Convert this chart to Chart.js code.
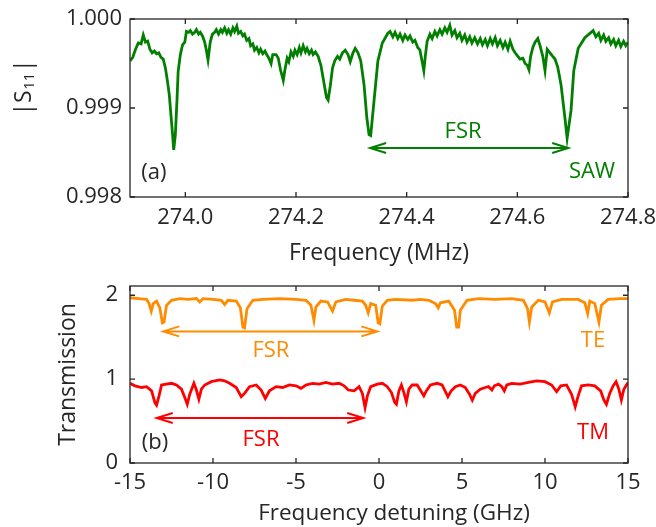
<!DOCTYPE html>
<html><head><meta charset="utf-8">
<script src="https://cdn.jsdelivr.net/npm/chart.js@4.4.1/dist/chart.umd.min.js"></script>
<style>
html,body{margin:0;padding:0;background:#fff;width:656px;height:527px;overflow:hidden;position:relative}
canvas{position:absolute;left:0}
#ca{top:0}
#cb{top:270px}
</style></head><body>
<canvas id="ca" width="656" height="270"></canvas>
<canvas id="cb" width="656" height="257"></canvas>
<script>
// ---------- Panel (a): SAW reflection ----------
const sawFreq = [
273.900,273.905,273.910,273.915,273.920,273.924,273.928,273.932,273.936,273.940,
273.944,273.948,273.952,273.956,273.960,273.964,273.967,273.971,273.974,273.977,
273.979,273.982,273.985,273.987,273.991,273.995,273.999,274.002,274.006,274.009,
274.013,274.017,274.020,274.024,274.027,274.031,274.035,274.038,274.041,274.045,
274.049,274.053,274.056,274.060,274.064,274.067,274.071,274.075,274.078,274.082,
274.086,274.089,274.093,274.096,274.100,274.104,274.107,274.111,274.115,274.118,
274.122,274.125,274.129,274.133,274.136,274.140,274.144,274.147,274.151,274.155,
274.158,274.164,274.168,274.172,274.177,274.180,274.184,274.187,274.191,274.195,
274.198,274.202,274.206,274.209,274.213,274.217,274.220,274.224,274.228,274.231,
274.235,274.240,274.245,274.250,274.255,274.258,274.262,274.266,274.270,274.275,
274.279,274.284,274.289,274.294,274.298,274.303,274.307,274.312,274.317,274.323,
274.328,274.332,274.335,274.341,274.348,274.356,274.366,274.370,274.375,274.379,
274.384,274.388,274.393,274.397,274.402,274.406,274.411,274.415,274.420,274.424,
274.428,274.431,274.434,274.437,274.442,274.446,274.451,274.455,274.460,274.464,
274.469,274.473,274.478,274.482,274.487,274.491,274.496,274.500,274.505,274.509,
274.514,274.518,274.523,274.528,274.533,274.537,274.542,274.546,274.551,274.555,
274.560,274.564,274.569,274.574,274.578,274.583,274.587,274.592,274.596,274.601,
274.605,274.610,274.614,274.618,274.621,274.624,274.628,274.632,274.637,274.641,
274.646,274.650,274.654,274.659,274.664,274.668,274.673,274.679,274.686,274.690,
274.697,274.702,274.710,274.722,274.737,274.742,274.747,274.751,274.756,274.760,
274.765,274.769,274.774,274.778,274.783,274.787,274.792,274.796,274.800
];
const sawS11 = [
0.99953,0.99957,0.99966,0.99973,0.99972,0.99982,0.99974,0.99975,0.99966,0.99962,
0.99964,0.99961,0.99962,0.99957,0.99955,0.99945,0.99933,0.99915,0.99892,0.99870,
0.99853,0.99870,0.99910,0.99941,0.99960,0.99971,0.99974,0.99986,0.99985,0.99987,
0.99983,0.99985,0.99988,0.99983,0.99985,0.99981,0.99974,0.99965,0.99954,0.99974,
0.99983,0.99985,0.99988,0.99983,0.99988,0.99985,0.99990,0.99984,0.99988,0.99983,
0.99990,0.99986,0.99992,0.99984,0.99986,0.99981,0.99983,0.99976,0.99978,0.99970,
0.99972,0.99965,0.99968,0.99962,0.99966,0.99961,0.99964,0.99960,0.99956,0.99950,
0.99960,0.99960,0.99956,0.99943,0.99931,0.99943,0.99956,0.99952,0.99963,0.99958,
0.99965,0.99960,0.99968,0.99962,0.99970,0.99963,0.99967,0.99961,0.99965,0.99960,
0.99963,0.99958,0.99948,0.99930,0.99912,0.99909,0.99925,0.99945,0.99953,0.99958,
0.99955,0.99962,0.99965,0.99960,0.99952,0.99962,0.99967,0.99962,0.99953,0.99926,
0.99889,0.99870,0.99869,0.99908,0.99953,0.99973,0.99984,0.99986,0.99980,0.99985,
0.99978,0.99983,0.99976,0.99982,0.99977,0.99981,0.99974,0.99976,0.99968,0.99965,
0.99952,0.99942,0.99960,0.99975,0.99983,0.99978,0.99986,0.99981,0.99988,0.99983,
0.99990,0.99985,0.99993,0.99982,0.99987,0.99979,0.99984,0.99976,0.99982,0.99974,
0.99980,0.99973,0.99979,0.99972,0.99978,0.99971,0.99977,0.99970,0.99978,0.99972,
0.99979,0.99970,0.99976,0.99968,0.99974,0.99966,0.99975,0.99966,0.99962,0.99958,
0.99955,0.99956,0.99950,0.99948,0.99943,0.99958,0.99968,0.99974,0.99978,0.99970,
0.99958,0.99942,0.99966,0.99962,0.99958,0.99955,0.99946,0.99926,0.99889,0.99866,
0.99897,0.99942,0.99967,0.99979,0.99987,0.99980,0.99984,0.99976,0.99982,0.99975,
0.99979,0.99972,0.99977,0.99970,0.99976,0.99969,0.99975,0.99970,0.99974
];
const sawXTicks = [274.0, 274.2, 274.4, 274.6, 274.8];
const sawYTicks = [0.998, 0.999, 1.000];

// ---------- Panel (b): optical transmission ----------
const teDetuning = [
-15.0,-14.5,-14.0,-13.85,-13.72,-13.6,-13.4,-13.2,-13.05,-12.95,-12.8,-12.5,-12.0,-11.5,-11.0,-10.8,-10.6,-10.0,-9.5,-9.3,
-9.1,-8.6,-8.35,-8.2,-8.1,-7.95,-7.6,-7.0,-6.0,-5.0,-4.4,-4.1,-3.92,-3.8,-3.5,-3.1,-2.8,-2.6,-2.0,-1.5,
-1.0,-0.8,-0.65,-0.5,-0.2,-0.05,0.05,0.2,0.5,1.0,2.0,2.5,3.0,3.4,3.57,3.7,4.2,4.55,4.68,4.8,
4.9,5.3,6.0,7.0,8.0,8.7,8.95,9.06,9.2,9.6,10.0,10.26,10.45,11.0,12.0,12.4,12.57,12.7,13.0,13.25,
13.4,13.8,14.5,15.0
];
const teTransmission = [
1.97,1.96,1.95,1.90,1.81,1.90,1.93,1.85,1.67,1.68,1.88,1.94,1.96,1.95,1.96,1.92,1.96,1.95,1.94,1.89,
1.94,1.93,1.85,1.62,1.61,1.84,1.94,1.95,1.96,1.95,1.94,1.88,1.70,1.86,1.93,1.92,1.81,1.92,1.95,1.94,
1.93,1.88,1.79,1.90,1.88,1.67,1.66,1.87,1.94,1.95,1.94,1.95,1.94,1.90,1.85,1.91,1.93,1.82,1.62,1.62,
1.82,1.94,1.96,1.95,1.96,1.94,1.84,1.68,1.86,1.94,1.92,1.79,1.92,1.95,1.95,1.91,1.78,1.93,1.90,1.68,
1.88,1.95,1.96,1.96
];
const tmDetuning = [
-15.0,-14.7,-14.3,-14.0,-13.7,-13.5,-13.4,-13.25,-13.1,-12.8,-12.5,-12.2,-11.9,-11.7,-11.55,-11.4,-11.15,-11.0,-10.85,-10.7,
-10.5,-10.1,-9.6,-9.3,-9.0,-8.6,-8.3,-8.1,-7.8,-7.4,-7.1,-6.85,-6.6,-6.2,-5.8,-5.4,-5.0,-4.7,-4.4,-4.0,
-3.6,-3.2,-2.8,-2.4,-2.1,-1.85,-1.5,-1.2,-1.0,-0.84,-0.7,-0.5,-0.1,0.2,0.5,0.75,0.95,1.05,1.2,1.35,
1.5,1.65,1.8,2.0,2.3,2.55,2.7,2.85,3.1,3.5,3.8,4.0,4.15,4.35,4.6,4.9,5.2,5.45,5.62,5.8,
6.1,6.4,6.6,6.8,6.95,7.2,7.4,7.55,7.7,8.0,8.5,9.0,9.5,10.0,10.4,10.7,10.95,11.3,11.6,11.82,
12.0,12.2,12.6,13.0,13.35,13.55,13.7,13.9,14.1,14.28,14.45,14.6,14.75,15.0
];
const tmTransmission = [
0.95,0.92,0.90,0.91,0.86,0.72,0.69,0.80,0.93,0.94,0.95,0.93,0.88,0.78,0.70,0.82,0.95,0.87,0.76,0.88,
0.93,0.97,0.99,0.98,0.95,0.90,0.79,0.83,0.91,0.93,0.87,0.77,0.86,0.91,0.90,0.93,0.92,0.89,0.93,0.95,
0.94,0.96,0.94,0.95,0.92,0.87,0.86,0.91,0.83,0.66,0.80,0.91,0.94,0.95,0.91,0.84,0.72,0.70,0.86,0.93,
0.84,0.73,0.88,0.93,0.93,0.85,0.80,0.86,0.93,0.95,0.93,0.85,0.79,0.86,0.91,0.93,0.90,0.82,0.75,0.83,
0.88,0.90,0.91,0.87,0.92,0.94,0.91,0.86,0.93,0.95,0.94,0.96,0.98,0.97,0.93,0.85,0.92,0.93,0.82,0.67,
0.80,0.92,0.93,0.92,0.86,0.75,0.70,0.83,0.92,0.97,0.88,0.75,0.88,0.96
];
const detXTicks = [-15, -10, -5, 0, 5, 10, 15];
const detYTicks = [0, 1, 2];

// ---------- styling ----------
const FONT = '"Open Sans", "DejaVu Sans", sans-serif';
const INK = '#262626';
const GREEN = '#007f00', ORANGE = '#ff8c00', RED = '#ff0000';
Chart.defaults.font.family = FONT;
Chart.defaults.color = INK;

const pairs = (xs, ys) => xs.map((v, i) => ({x: v, y: ys[i]}));

const framePlugin = {
  id: 'frame',
  afterDatasetsDraw(chart) {
    const {ctx, chartArea: a, scales: {x, y}} = chart;
    const L = 5;
    ctx.save();
    ctx.strokeStyle = INK; ctx.lineWidth = 1.3;
    ctx.strokeRect(a.left, a.top, a.right - a.left, a.bottom - a.top);
    ctx.beginPath();
    x.ticks.forEach(t => {
      const p = x.getPixelForValue(t.value);
      ctx.moveTo(p, a.bottom); ctx.lineTo(p, a.bottom - L);
      ctx.moveTo(p, a.top); ctx.lineTo(p, a.top + L);
    });
    y.ticks.forEach(t => {
      const p = y.getPixelForValue(t.value);
      ctx.moveTo(a.left, p); ctx.lineTo(a.left + L, p);
      ctx.moveTo(a.right, p); ctx.lineTo(a.right - L, p);
    });
    ctx.stroke();
    ctx.restore();
  }
};

function marks(labels, arrows, texts) {
  return {
    id: 'marks',
    afterDatasetsDraw(chart) {
      const {ctx, scales: {x, y}} = chart;
      ctx.save();
      arrows.forEach(a => {
        const x1 = x.getPixelForValue(a.from), x2 = x.getPixelForValue(a.to), py = y.getPixelForValue(a.at);
        ctx.strokeStyle = a.color; ctx.lineWidth = 2; ctx.lineJoin = 'miter';
        ctx.beginPath();
        ctx.moveTo(x1, py); ctx.lineTo(x2, py);
        ctx.moveTo(x1 + 16, py - 5); ctx.lineTo(x1, py); ctx.lineTo(x1 + 16, py + 5);
        ctx.moveTo(x2 - 16, py - 5); ctx.lineTo(x2, py); ctx.lineTo(x2 - 16, py + 5);
        ctx.stroke();
      });
      labels.forEach(l => {
        ctx.font = '22px ' + FONT;
        ctx.fillStyle = l.color; ctx.textAlign = 'center'; ctx.textBaseline = 'middle';
        ctx.fillText(l.text, x.getPixelForValue(l.x), y.getPixelForValue(l.y));
      });
      ctx.restore();
    },
    afterDraw(chart) {
      const ctx = chart.ctx;
      ctx.save();
      (texts || []).forEach(t => {
        ctx.font = t.size + 'px ' + FONT;
        ctx.fillStyle = INK; ctx.textAlign = 'center'; ctx.textBaseline = 'middle';
        ctx.fillText(t.text, t.cx, t.cy);
      });
      ctx.restore();
    }
  };
}

const s11Title = {
  id: 's11Title',
  afterDraw(chart) {
    const ctx = chart.ctx;
    ctx.save();
    ctx.translate(24, 88); ctx.rotate(-Math.PI / 2);
    ctx.fillStyle = INK; ctx.textBaseline = 'middle'; ctx.textAlign = 'left';
    const big = '23px ' + FONT, small = '15px ' + FONT;
    ctx.font = big; const w1 = ctx.measureText('|S').width, w3 = ctx.measureText('|').width;
    ctx.font = small; const w2 = ctx.measureText('11').width;
    let px = -(w1 + w2 + w3) / 2;
    ctx.font = big; ctx.fillText('|S', px, 0); px += w1;
    ctx.font = small; ctx.fillText('11', px + 0.5, 6); px += w2 + 1;
    ctx.font = big; ctx.fillText('|', px, 0);
    ctx.restore();
  }
};

function setTicks(list) { return s => { s.ticks = list.map(v => ({value: v})); }; }
function fixX(h) { return s => { s.height = h; s.paddingLeft = 0; s.paddingRight = 0; s.paddingTop = 0; s.paddingBottom = 0; }; }
function fixY(w) { return s => { s.width = w; s.paddingLeft = 0; s.paddingRight = 0; s.paddingTop = 0; s.paddingBottom = 0; }; }
const noGrid = { display: false, drawTicks: false, tickLength: 0 };

// ---------- chart (a) ----------
new Chart(document.getElementById('ca'), {
  type: 'line',
  data: { datasets: [{ data: pairs(sawFreq, sawS11), borderColor: GREEN, borderWidth: 2.8,
    pointRadius: 0, tension: 0, fill: false }] },
  options: {
    responsive: false, animation: false, devicePixelRatio: 1,
    layout: { padding: { left: 0, right: 28, top: 19, bottom: 0 } },
    plugins: { legend: { display: false }, tooltip: { enabled: false } },
    scales: {
      x: { type: 'linear', min: 273.9, max: 274.8,
        afterBuildTicks: setTicks(sawXTicks),
        afterFit: fixX(73),
        grid: noGrid, border: { display: false },
        ticks: { padding: 8, color: INK, font: { size: 22 }, maxRotation: 0, callback: v => v.toFixed(1) },
        title: { display: true, text: 'Frequency (MHz)', color: INK, font: { size: 23 }, padding: { top: 0, bottom: 3 } } },
      y: { type: 'linear', min: 0.998, max: 1.000,
        afterBuildTicks: setTicks(sawYTicks),
        afterFit: fixY(130),
        grid: noGrid, border: { display: false },
        ticks: { padding: 8, color: INK, font: { size: 22 }, callback: v => v.toFixed(3) } }
    }
  },
  plugins: [framePlugin, s11Title, marks(
    [ {text: '(a)', x: 273.943, y: 0.99827, color: INK},
      {text: 'FSR', x: 274.502, y: 0.99873, color: GREEN},
      {text: 'SAW', x: 274.735, y: 0.99828, color: GREEN} ],
    [ {from: 274.334, to: 274.692, at: 0.998551, color: GREEN} ])]
});

// ---------- chart (b) ----------
new Chart(document.getElementById('cb'), {
  type: 'line',
  data: { datasets: [
    { data: pairs(teDetuning, teTransmission), borderColor: ORANGE, borderWidth: 2.8, pointRadius: 0, tension: 0, fill: false },
    { data: pairs(tmDetuning, tmTransmission), borderColor: RED, borderWidth: 2.8, pointRadius: 0, tension: 0, fill: false }
  ] },
  options: {
    responsive: false, animation: false, devicePixelRatio: 1,
    layout: { padding: { left: 0, right: 28, top: 16, bottom: 0 } },
    plugins: { legend: { display: false }, tooltip: { enabled: false } },
    scales: {
      x: { type: 'linear', min: -15, max: 15,
        afterBuildTicks: setTicks(detXTicks),
        afterFit: fixX(64),
        grid: noGrid, border: { display: false },
        ticks: { padding: 7, color: INK, font: { size: 22 }, maxRotation: 0, callback: v => String(v) } },
      y: { type: 'linear', min: 0, max: 2.11,
        afterBuildTicks: setTicks(detYTicks),
        afterFit: fixY(130),
        grid: noGrid, border: { display: false },
        ticks: { padding: 12, color: INK, font: { size: 22 }, callback: v => String(v) },
        title: { display: true, text: 'Transmission', color: INK, font: { size: 23 }, padding: { top: 55, bottom: 0 } } }
    }
  },
  plugins: [framePlugin, marks(
    [ {text: '(b)', x: -13.49, y: 0.24, color: INK},
      {text: 'FSR', x: -6.51, y: 1.344, color: ORANGE},
      {text: 'TE', x: 12.89, y: 1.463, color: ORANGE},
      {text: 'FSR', x: -7.11, y: 0.276, color: RED},
      {text: 'TM', x: 12.89, y: 0.36, color: RED} ],
    [ {from: -13.0, to: -0.1, at: 1.569, color: ORANGE},
      {from: -13.39, to: -0.95, at: 0.537, color: RED} ],
    [ {text: 'Frequency detuning (GHz)', cx: 394, cy: 244, size: 22.5} ])]
});
</script>
</body></html>
